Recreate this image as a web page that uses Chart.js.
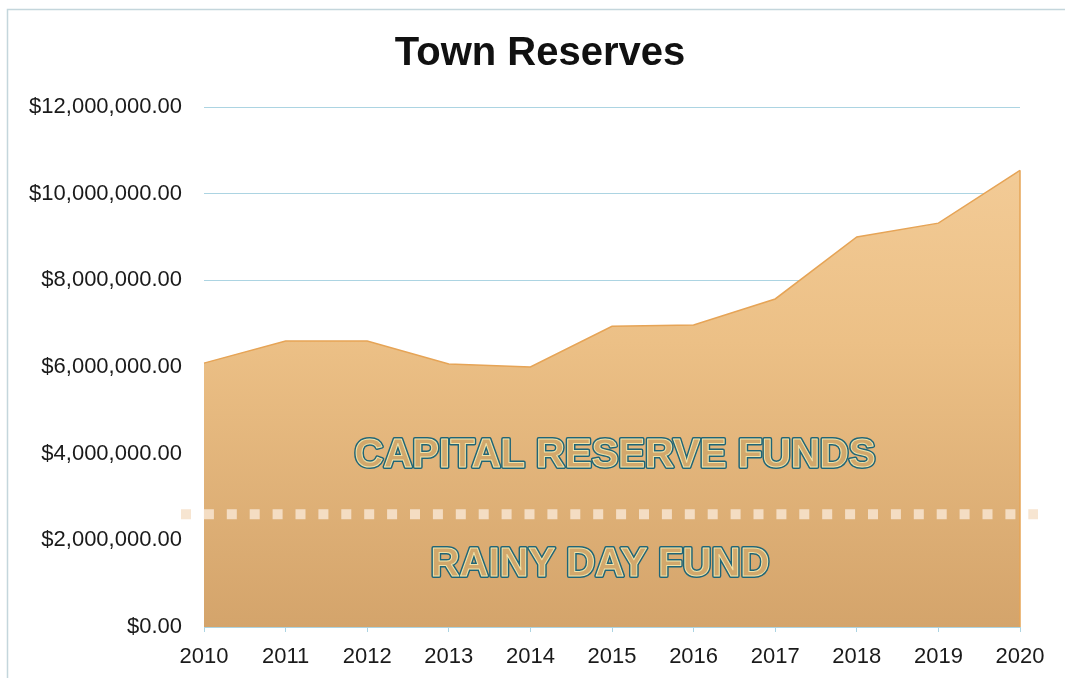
<!DOCTYPE html>
<html>
<head>
<meta charset="utf-8">
<title>Town Reserves</title>
<script src="https://cdn.jsdelivr.net/npm/chart.js@4"></script>
<style>
  html, body { margin: 0; padding: 0; background: #fff; }
  #wrap { width: 1065px; height: 678px; position: relative; }
</style>
</head>
<body>
<div id="wrap"><canvas id="reserveChart" width="1065" height="678"></canvas></div>
<script>
const years    = ['2010','2011','2012','2013','2014','2015','2016','2017','2018','2019','2020'];
const reserves = [6090000, 6600000, 6600000, 6070000, 6000000, 6940000, 6970000, 7570000, 9000000, 9320000, 10540000];
const yTicks   = [0, 2000000, 4000000, 6000000, 8000000, 10000000, 12000000];
const rainyDayLevel = 2600000;
const chartTitle = 'Town Reserves';
const bandLabels = ['CAPITAL RESERVE FUNDS', 'RAINY DAY FUND'];

const FONT = '"Liberation Sans", Arial, sans-serif';
const GRID = '#acd4e2';
const money = v => '$' + Number(v).toLocaleString('en-US', { minimumFractionDigits: 2, maximumFractionDigits: 2 });

// thin frame round the whole chart, and the title (sits a bit right of the canvas centre)
const framePlugin = {
  id: 'frame',
  beforeDraw(chart) {
    const ctx = chart.ctx;
    ctx.save();
    ctx.strokeStyle = '#c4d6dc';
    ctx.lineWidth = 1.5;
    ctx.beginPath();
    ctx.moveTo(7.5, 678);
    ctx.lineTo(7.5, 9.5);
    ctx.lineTo(1065, 9.5);
    ctx.stroke();

    ctx.fillStyle = '#111';
    ctx.font = 'bold 40px ' + FONT;
    ctx.textAlign = 'center';
    ctx.textBaseline = 'middle';
    ctx.fillText(chartTitle, 540, 54);
    ctx.restore();
  }
};

// dotted rainy-day line plus the two outlined band captions
const bandPlugin = {
  id: 'bands',
  afterDatasetsDraw(chart) {
    const { ctx, chartArea: a, scales: { x, y } } = chart;

    // closing edge of the area at the last year
    const last = reserves.length - 1;
    ctx.save();
    ctx.strokeStyle = '#e6a456';
    ctx.lineWidth = 1.5;
    ctx.beginPath();
    ctx.moveTo(x.getPixelForValue(last), y.getPixelForValue(reserves[last]));
    ctx.lineTo(x.getPixelForValue(last), y.getPixelForValue(0));
    ctx.stroke();

    const lineY = y.getPixelForValue(rainyDayLevel);
    ctx.strokeStyle = 'rgba(246,226,204,0.9)';
    ctx.lineWidth = 10;
    ctx.setLineDash([10, 12.9]);
    ctx.beginPath();
    ctx.moveTo(a.left - 23, lineY);
    ctx.lineTo(a.right + 18, lineY);
    ctx.stroke();
    ctx.setLineDash([]);

    const cx = (a.left + a.right) / 2;
    const spots = [
      { text: bandLabels[0], x: cx + 3, y: y.getPixelForValue(3950000) },
      { text: bandLabels[1], x: cx - 12, y: y.getPixelForValue(1430000) }
    ];
    ctx.font = 'bold 40px ' + FONT;
    ctx.textAlign = 'center';
    ctx.textBaseline = 'middle';
    ctx.lineJoin = 'round';
    spots.forEach(s => {
      ctx.lineWidth = 4;
      ctx.strokeStyle = '#1f6577';
      ctx.strokeText(s.text, s.x, s.y);
      ctx.fillStyle = '#d2a86c';
      ctx.fillText(s.text, s.x, s.y);
      ctx.lineWidth = 1;
      ctx.strokeStyle = '#f1e3a8';
      ctx.strokeText(s.text, s.x, s.y);
    });
    ctx.restore();
  }
};

const ctx = document.getElementById('reserveChart').getContext('2d');
new Chart(ctx, {
  type: 'line',
  data: {
    labels: years,
    datasets: [{
      data: reserves,
      fill: 'origin',
      borderColor: '#e6a456',
      borderWidth: 1.5,
      pointRadius: 0,
      tension: 0,
      backgroundColor: (c) => {
        const a = c.chart.chartArea;
        if (!a) return '#e8bb83';
        const g = c.chart.ctx.createLinearGradient(0, a.top, 0, a.bottom);
        g.addColorStop(0, '#f5cf9c');
        g.addColorStop(0.45, '#ecc086');
        g.addColorStop(1, '#d4a46b');
        return g;
      }
    }]
  },
  options: {
    responsive: false,
    animation: false,
    layout: { padding: { left: 0, right: 45, top: 107, bottom: 0 } },
    plugins: {
      legend: { display: false },
      tooltip: { enabled: false },
      title: { display: false }
    },
    scales: {
      x: {
        offset: false,
        grid: { display: true, drawOnChartArea: false, color: GRID, tickLength: 5 },
        border: { color: GRID },
        ticks: {
          color: '#1a1a1a',
          padding: 12,
          maxRotation: 0,
          font: { family: FONT, size: 22 }
        },
        afterFit: s => { s.height = 51; }
      },
      y: {
        min: 0,
        max: 12000000,
        afterBuildTicks: s => { s.ticks = yTicks.map(v => ({ value: v })); },
        grid: { color: GRID, drawTicks: false },
        border: { display: false },
        ticks: {
          color: '#1a1a1a',
          padding: 22,
          callback: v => money(v),
          font: { family: FONT, size: 22 }
        },
        afterFit: s => { s.width = 204; }
      }
    }
  },
  plugins: [framePlugin, bandPlugin]
});
</script>
</body>
</html>
